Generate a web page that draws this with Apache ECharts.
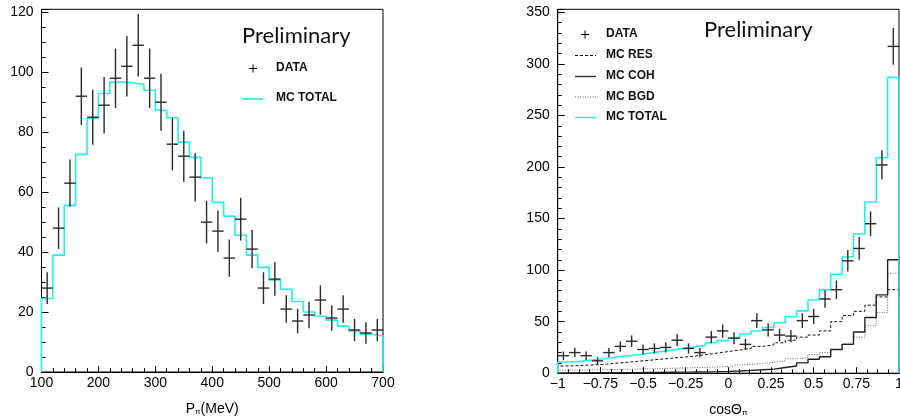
<!DOCTYPE html>
<html><head><meta charset="utf-8">
<script src="https://cdn.jsdelivr.net/npm/echarts@6/dist/echarts.min.js"></script>
<style>html,body{margin:0;padding:0;background:#fff;overflow:hidden}#c{width:900px;height:417px}</style>
</head><body><div id="c"></div>
<script>
// ---- Left panel: pion momentum (MeV), 30 bins of 20 MeV from 100 to 700
const pLow = 100, pBinW = 20;
const pData = [28,48,63,92,85,89,98,102,109,98,90,76,72,65,50,47,38,51,41,28,31,21,17,19,24,18,21,14,13,14];
const pErr  = [5.3,6.9,7.9,9.6,9.2,9.4,9.9,10.1,10.4,9.9,9.5,8.7,8.5,8.1,7.1,6.9,6.2,7.1,6.4,5.3,5.6,4.6,4.1,4.4,4.9,4.2,4.6,3.7,3.6,3.7];
const pMCTotal = [24.5,39,55.6,72.6,84.6,92.9,96.7,96.5,95.9,94,87.3,84.8,76.7,71.6,64.8,56.6,52,45.6,39,34.9,30.7,27.6,23.5,20,18.6,17.3,15.3,13.7,12.6,12];
const pTicks = [100,200,300,400,500,600,700];

// ---- Right panel: cos theta_pi, 30 bins from -1 to 1
const cLow = -1, cBinW = 2/30;
const cData = [17,20,17,12,20,26,31,23,24,25,32,24,20,35,41,34,28,51,42,37,36,51,55,72,81,109,121,145,202,317];
const cErr  = [4.1,4.5,4.1,3.5,4.5,5.1,5.6,4.8,4.9,5,5.7,4.9,4.5,5.9,6.4,5.8,5.3,7.1,6.5,6.1,6,7.1,7.4,8.5,9,10.4,11,12,14.2,17.8];
const cRES  = [7,7.5,8,8.5,9.5,10.5,11.5,12.5,13.5,14.5,15.5,16.5,18,19.5,21,22.5,24,26,27.5,29.5,32,35,37,41,50,56,60,66,74,81];
const cCOH  = [0.3,0.3,0.4,0.4,0.5,0.5,0.6,0.7,0.8,0.9,1.0,1.1,1.3,1.5,1.8,2.2,2.7,3.3,4,5.5,7,10,13.5,16,23,28,40,54,76,110];
const cBGD  = [3,3,3.2,3.4,3.6,3.8,4,4.2,4.5,4.8,5,5.3,5.6,6,6.5,8,8.5,9.5,10.5,12,14,15,18,20,23,29,35,46,59,97];
const cTotal= [10.9,11.5,12.8,13.8,15.4,16.7,17.7,19.3,20.9,22.2,23.8,25.4,27,29.6,31.6,34,38,41,44.4,49,54.7,60.5,71,81,96,113,135,166,209,287];
const cTicks = [-1,-0.75,-0.5,-0.25,0,0.25,0.5,0.75,1];

function histPts(vals, lo, w){
  const pts = [[lo, 0]];
  vals.forEach((v,i)=>pts.push([lo + i*w, v]));
  pts.push([lo + vals.length*w, vals[vals.length-1]]);
  pts.push([lo + vals.length*w, 0]);
  return pts;
}
function errPts(vals, errs, lo, w){
  return vals.map((v,i)=>[lo + (i+0.5)*w, v, errs[i], w]);
}
function crossItem(params, api){
  const x = api.value(0), y = api.value(1), e = api.value(2), w = api.value(3);
  const a = api.coord([x - w/2, y]), b = api.coord([x + w/2, y]);
  const c = api.coord([x, y - e]), d = api.coord([x, y + e]);
  const st = {stroke:'#2a2a2a', lineWidth:1.4};
  return {type:'group', children:[
    {type:'line', shape:{x1:a[0],y1:a[1],x2:b[0],y2:b[1]}, style:st},
    {type:'line', shape:{x1:c[0],y1:c[1],x2:d[0],y2:d[1]}, style:st}
  ]};
}
const FONT = 'Liberation Sans';
const axisLbl = {color:'#000', fontFamily:FONT, fontSize:14};
function mkY(gi, max, interval, split){
  return {gridIndex:gi, type:'value', min:0, max:max, interval:interval,
    axisLine:{show:true, onZero:false, lineStyle:{color:'#000', width:1}},
    axisTick:{show:true, inside:true, length:7, lineStyle:{color:'#000'}},
    minorTick:{show:true, splitNumber:split, length:4, lineStyle:{color:'#000'}},
    splitLine:{show:false},
    axisLabel:Object.assign({margin:8, formatter:v=> (Math.abs(v/interval - Math.round(v/interval))<1e-6 ? String(v) : '')}, axisLbl)};
}
function mkX(gi, min, max, interval, split, fmt, name){
  return {gridIndex:gi, type:'value', min:min, max:max, interval:interval,
    axisLine:{show:true, onZero:false, lineStyle:{color:'#000'}},
    axisTick:{show:true, inside:true, length:6, lineStyle:{color:'#000'}},
    minorTick:{show:true, splitNumber:split, length:4, lineStyle:{color:'#000'}},
    splitLine:{show:false},
    axisLabel:Object.assign({margin:4, formatter:fmt}, axisLbl),
    name:name, nameLocation:'middle', nameGap:30,
    nameTextStyle:{rich:{a:{fontFamily:FONT, fontSize:14, color:'#000'}, s:{fontFamily:FONT, fontSize:8, color:'#000', padding:[6,0,0,0]}}}};
}
const chart = echarts.init(document.getElementById('c'), null, {renderer:'canvas', width:900, height:417});
const option = {
  animation:false,
  backgroundColor:'#fff',
  grid:[
    {left:41.5, top:9.3, right:517, bottom:45, show:true, borderColor:'#000', borderWidth:1, backgroundColor:'transparent', outerBoundsMode:'none', containLabel:false},
    {left:557.7, top:9.3, right:1, bottom:43.8, show:true, borderColor:'#000', borderWidth:1, backgroundColor:'transparent', outerBoundsMode:'none', containLabel:false}
  ],
  xAxis:[
    mkX(0, 100, 700, 100, 5, v=>String(v), '{a|P}{s|π}{a|(MeV)}'),
    mkX(1, -1, 1, 0.25, 4, v=>String(v).replace('-','\u2212'), '{a|cosΘ}{s|π}')
  ],
  yAxis:[ mkY(0, 121, 20, 4), mkY(1, 353, 50, 5) ],
  series:[
    {type:'line', xAxisIndex:0, yAxisIndex:0, data:histPts(pMCTotal, pLow, pBinW), step:'end', symbol:'none',
      lineStyle:{color:'#22f0f0', width:1.6}, z:3},
    {type:'custom', xAxisIndex:0, yAxisIndex:0, data:errPts(pData, pErr, pLow, pBinW), renderItem:crossItem, z:4},
    {type:'line', xAxisIndex:1, yAxisIndex:1, data:histPts(cBGD, cLow, cBinW), step:'end', symbol:'none',
      lineStyle:{color:'#666', width:1, type:[1,1.5]}, z:2},
    {type:'line', xAxisIndex:1, yAxisIndex:1, data:histPts(cRES, cLow, cBinW), step:'end', symbol:'none',
      lineStyle:{color:'#111', width:1, type:[3,2]}, z:2},
    {type:'line', xAxisIndex:1, yAxisIndex:1, data:histPts(cCOH, cLow, cBinW), step:'end', symbol:'none',
      lineStyle:{color:'#222', width:1.4}, z:2},
    {type:'line', xAxisIndex:1, yAxisIndex:1, data:histPts(cTotal, cLow, cBinW), step:'end', symbol:'none',
      lineStyle:{color:'#22f0f0', width:1.6}, z:3},
    {type:'custom', xAxisIndex:1, yAxisIndex:1, data:errPts(cData, cErr, cLow, cBinW), renderItem:crossItem, z:4}
  ],
  graphic:[
    {type:'text', left:242, top:25, style:{text:'Preliminary', fontFamily:'Lato', fontWeight:400, fontSize:22, fill:'#111'}},
    {type:'text', left:704, top:19, style:{text:'Preliminary', fontFamily:'Lato', fontWeight:400, fontSize:22, fill:'#111'}},
    // left legend
    {type:'line', shape:{x1:249,y1:68.5,x2:257,y2:68.5}, style:{stroke:'#000', lineWidth:1}},
    {type:'line', shape:{x1:253,y1:64.5,x2:253,y2:72.5}, style:{stroke:'#000', lineWidth:1}},
    {type:'text', left:276, top:62, style:{text:'DATA', fontFamily:FONT, fontSize:12, fontWeight:'bold', fill:'#111'}},
    {type:'line', shape:{x1:242,y1:99,x2:263,y2:99}, style:{stroke:'#22f0f0', lineWidth:1.6}},
    {type:'text', left:276, top:92, style:{text:'MC TOTAL', fontFamily:FONT, fontSize:12, fontWeight:'bold', fill:'#111'}},
    // right legend
    {type:'line', shape:{x1:581,y1:34.5,x2:589,y2:34.5}, style:{stroke:'#000', lineWidth:1}},
    {type:'line', shape:{x1:585,y1:30.5,x2:585,y2:38.5}, style:{stroke:'#000', lineWidth:1}},
    {type:'text', left:606, top:28, style:{text:'DATA', fontFamily:FONT, fontSize:12, fontWeight:'bold', fill:'#111'}},
    {type:'line', shape:{x1:575,y1:55.5,x2:596,y2:55.5}, style:{stroke:'#111', lineWidth:1, lineDash:[3,2]}},
    {type:'text', left:606, top:49, style:{text:'MC RES', fontFamily:FONT, fontSize:12, fontWeight:'bold', fill:'#111'}},
    {type:'line', shape:{x1:575,y1:76.5,x2:596,y2:76.5}, style:{stroke:'#333', lineWidth:1.4}},
    {type:'text', left:606, top:70, style:{text:'MC COH', fontFamily:FONT, fontSize:12, fontWeight:'bold', fill:'#111'}},
    {type:'line', shape:{x1:575,y1:97,x2:596,y2:97}, style:{stroke:'#555', lineWidth:1, lineDash:[1,1.5]}},
    {type:'text', left:606, top:90.5, style:{text:'MC BGD', fontFamily:FONT, fontSize:12, fontWeight:'bold', fill:'#111'}},
    {type:'line', shape:{x1:575,y1:117.5,x2:596,y2:117.5}, style:{stroke:'#22f0f0', lineWidth:1.6}},
    {type:'text', left:606, top:111, style:{text:'MC TOTAL', fontFamily:FONT, fontSize:12, fontWeight:'bold', fill:'#111'}}
  ]
};
chart.setOption(option);
</script></body></html>
